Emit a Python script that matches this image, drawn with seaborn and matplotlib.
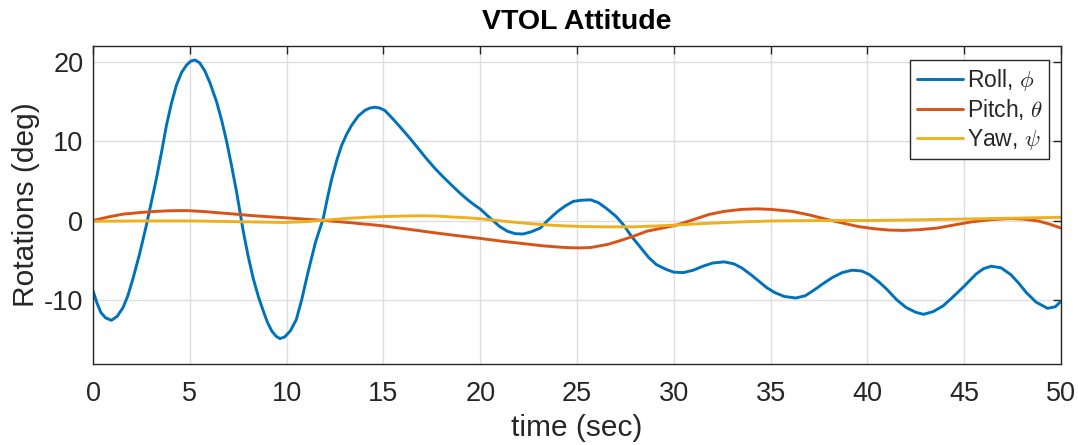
import numpy as np
import pandas as pd
import matplotlib
matplotlib.use("Agg")
import matplotlib.pyplot as plt
import seaborn as sns

# Roll angle samples (time in s, angle in deg)
roll_t = [0.0, 0.2, 0.4, 0.65, 0.95, 1.25, 1.55, 1.8, 2.07, 2.4, 2.76, 3.0, 3.28,
          3.55, 3.79, 4.05, 4.31, 4.58, 4.83, 5.05, 5.26, 5.5, 5.77, 6.05, 6.38,
          6.65, 6.9, 7.15, 7.41, 7.76, 8.0, 8.27, 8.55, 8.79, 9.0, 9.22, 9.45,
          9.65, 9.9, 10.2, 10.5, 10.77, 11.1, 11.5, 11.89, 12.1, 12.32, 12.6,
          12.84, 13.1, 13.35, 13.7, 14.04, 14.3, 14.56, 14.8, 15.07, 15.5, 15.94,
          16.4, 16.8, 17.2, 17.66, 18.1, 18.52, 18.95, 19.38, 19.7, 20.0, 20.4,
          20.7, 21.0, 21.4, 21.8, 22.2, 22.6, 23.1, 23.5, 24.0, 24.4, 24.8, 25.2,
          25.7, 26.1, 26.5, 27.0, 27.4, 27.8, 28.3, 28.7, 29.1, 29.6, 30.0, 30.5,
          31.0, 31.5, 32.0, 32.6, 33.1, 33.5, 34.0, 34.4, 34.8, 35.2, 35.7, 36.3,
          36.8, 37.3, 37.7, 38.2, 38.7, 39.2, 39.7, 40.1, 40.6, 41.0, 41.5, 42.0,
          42.5, 42.9, 43.4, 43.9, 44.4, 45.0, 45.6, 46.0, 46.4, 46.9, 47.4, 47.8,
          48.2, 48.7, 49.3, 49.7, 50.0]
roll_v = [-8.8, -10.3, -11.5, -12.2, -12.5, -12.0, -10.9, -9.4, -7.2, -4.2, -0.5, 2.2, 5.4,
          8.8, 12.0, 14.8, 17.1, 18.7, 19.6, 20.1, 20.25, 19.9, 18.9, 17.3, 15.0,
          12.6, 10.0, 7.0, 3.7, -1.3, -4.3, -7.2, -9.6, -11.3, -12.7, -13.8, -14.5,
          -14.8, -14.6, -13.8, -12.4, -10.0, -6.5, -2.6, 0.3, 2.8, 5.2, 7.7,
          9.5, 10.9, 12.0, 13.2, 13.9, 14.2, 14.3, 14.2, 13.9, 12.8, 11.6,
          10.3, 9.1, 7.9, 6.6, 5.5, 4.5, 3.5, 2.6, 2.0, 1.5, 0.6,
          -0.05, -0.7, -1.3, -1.6, -1.65, -1.4, -0.9, 0.1, 1.2, 1.9, 2.45, 2.6,
          2.65, 2.3, 1.6, 0.6, -0.5, -1.9, -3.4, -4.6, -5.5, -6.1, -6.45, -6.5,
          -6.2, -5.7, -5.3, -5.15, -5.4, -5.9, -6.8, -7.6, -8.4, -9.0, -9.5, -9.7,
          -9.4, -8.6, -7.9, -7.1, -6.5, -6.2, -6.3, -6.75, -7.7, -8.6, -9.9, -10.9,
          -11.5, -11.75, -11.4, -10.7, -9.6, -8.2, -6.7, -6.0, -5.7, -5.9, -6.75, -7.8,
          -9.0, -10.2, -11.0, -10.8, -10.1]

# Pitch angle samples
pitch_t = [0.0, 0.8, 1.55, 2.4, 3.28, 4.0, 4.83, 5.7, 6.6, 7.5, 8.3, 9.1, 9.9,
           10.9, 11.9, 13.4, 14.9, 16.3, 17.66, 18.8, 20.0, 21.1, 22.2, 23.3,
           24.4, 25.1, 25.7, 26.6, 27.4, 28.0, 28.6, 29.4, 30.1, 31.0, 31.8,
           32.6, 33.5, 34.3, 35.0, 36.1, 37.0, 37.8, 38.6, 39.5, 40.4, 41.1,
           41.86, 42.7, 43.6, 44.5, 45.3, 46.3, 47.4, 48.1, 48.8, 49.4, 50.0]
pitch_v = [0.05, 0.5, 0.85, 1.05, 1.2, 1.28, 1.3, 1.18, 1.0, 0.82, 0.65, 0.52, 0.4,
           0.23, 0.07, -0.25, -0.6, -1.05, -1.5, -1.85, -2.2, -2.55, -2.85, -3.15,
           -3.35, -3.4, -3.35, -2.95, -2.35, -1.85, -1.3, -0.9, -0.55, 0.15, 0.8,
           1.2, 1.45, 1.52, 1.45, 1.2, 0.75, 0.25, -0.2, -0.7, -1.0, -1.15,
           -1.2, -1.1, -0.9, -0.5, -0.15, 0.15, 0.3, 0.22, 0.0, -0.4, -0.9]

# Yaw angle samples
yaw_t = [0.0, 2.5, 5.0, 7.5, 9.9, 10.9, 11.9, 12.6, 13.35, 14.2, 15.1, 16.1, 17.1,
         17.8, 18.5, 19.3, 20.1, 20.9, 21.7, 22.5, 23.4, 24.3, 25.2, 26.5, 27.8,
         29.0, 30.1, 31.0, 31.8, 33.5, 35.2, 37.7, 40.3, 42.8, 45.3, 47.7, 50.0]
yaw_v = [-0.05, 0.0, 0.0, -0.1, -0.2, -0.1, 0.07, 0.22, 0.35, 0.47, 0.55, 0.62, 0.65,
         0.6, 0.5, 0.4, 0.25, 0.05, -0.15, -0.33, -0.5, -0.62, -0.7, -0.75, -0.75,
         -0.65, -0.52, -0.4, -0.3, -0.12, 0.0, 0.05, 0.05, 0.15, 0.25, 0.35, 0.45]

labels = [r"Roll, $\phi$", r"Pitch, $\theta$", r"Yaw, $\psi$"]
colors = ["#0072BD", "#D95319", "#EDB120"]

df = pd.concat([
    pd.DataFrame({"time": roll_t, "angle": roll_v, "series": labels[0]}),
    pd.DataFrame({"time": pitch_t, "angle": pitch_v, "series": labels[1]}),
    pd.DataFrame({"time": yaw_t, "angle": yaw_v, "series": labels[2]}),
], ignore_index=True)

sns.set_theme(style="white")
plt.rcParams["font.family"] = ["Liberation Sans", "DejaVu Sans"]
plt.rcParams["axes.unicode_minus"] = False
plt.rcParams["mathtext.fontset"] = "cm"

fig = plt.figure(figsize=(10.78, 4.45), dpi=100)
ax = fig.add_axes([0.0863, 0.182, 0.898, 0.7146])

sns.lineplot(data=df, x="time", y="angle", hue="series", hue_order=labels,
             palette=colors, linewidth=2.1, sort=False, estimator=None, ax=ax)
for ln in ax.get_lines():
    ln.set_solid_joinstyle("round")
    ln.set_solid_capstyle("round")

ax.set_xlim(0, 50)
ax.set_ylim(-18, 22)
ax.set_xticks(np.arange(0, 51, 5))
ax.set_yticks([-10, 0, 10, 20])

ax.grid(True, color="#dedede", linewidth=1.0)
ax.set_axisbelow(True)

text_color = "#262626"
for sp in ax.spines.values():
    sp.set_color(text_color)
    sp.set_linewidth(1.0)
ax.tick_params(direction="in", top=True, right=True, length=6, width=1.0,
               colors=text_color, labelsize=19.5)
ax.tick_params(axis="x", pad=12)
ax.tick_params(axis="y", pad=7)

ax.set_xlabel("time (sec)", fontsize=21.5, color=text_color, labelpad=5)
ax.set_ylabel("Rotations (deg)", fontsize=21.5, color=text_color, labelpad=3)
ax.set_title("VTOL Attitude", fontsize=20.5, fontweight="bold", color="black", pad=12)

handles, _ = ax.get_legend_handles_labels()
leg = ax.legend(handles=handles, labels=labels, loc="upper right",
                bbox_to_anchor=(0.988, 0.957), fontsize=16.5, frameon=True,
                fancybox=False, edgecolor=text_color, framealpha=1.0,
                handlelength=2.0, handletextpad=0.15, borderpad=0.3,
                labelspacing=0.2, borderaxespad=0.0)
leg.get_frame().set_linewidth(1.0)

fig.savefig("out.png", dpi=100)
